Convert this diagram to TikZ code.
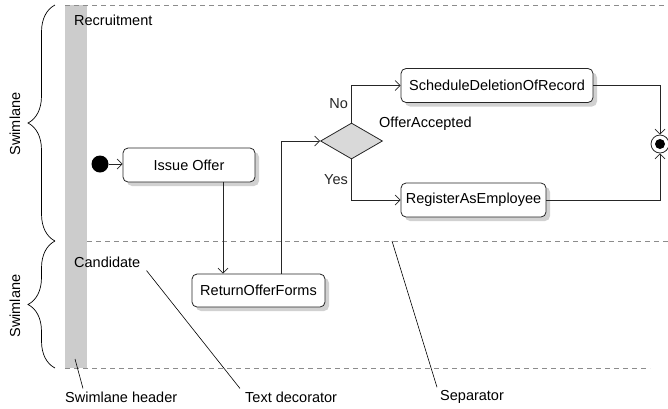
\documentclass[tikz,border=0pt]{standalone}
\usepackage{fontspec}
\setmainfont{Liberation Sans}
\usetikzlibrary{positioning,shapes.geometric,shadows,arrows.meta,decorations.pathreplacing}

\begin{document}
\begin{tikzpicture}[
    x=1pt,
    y=-1pt,
    font=\fontsize{14.5}{17}\selectfont,
    action/.style={
        rectangle,
        draw=black!85,
        fill=white,
        rounded corners=5pt,
        minimum height=34pt,
        inner xsep=3pt,
        line width=0.8pt,
        drop shadow={shadow xshift=4pt, shadow yshift=-4pt, fill=black!18, opacity=1}
    },
    decision/.style={
        diamond,
        draw=black!85,
        fill=black!15,
        minimum width=62pt,
        minimum height=36pt,
        aspect=1.72,
        inner sep=0pt,
        line width=0.8pt
    },
    flow/.style={
        draw,
        -{Straight Barb[length=5pt,width=10pt]},
        line width=0.7pt,
        color=black!85
    },
    lane/.style={
        draw,
        dashed,
        dash pattern=on 5pt off 4pt,
        color=black!45,
        line width=0.7pt
    },
    brace/.style={
        draw,
        decorate,
        decoration={brace, amplitude=27pt, aspect=0.5},
        line width=0.7pt
    },
    note/.style={
        draw,
        line width=0.6pt,
        color=black
    },
    lbl/.style={
        inner sep=0pt
    }
]
    \useasboundingbox (0,0) rectangle (668,408);

    % Swimlanes
    \fill[black!20] (65,5) rectangle (87,368);
    \path [lane] (65,5) -- (668,5);
    \path [lane] (87,241) -- (668,241);
    \path [lane] (65,368) -- (650,368);
    \path [brace] (55,241) -- (55,5);
    \path [brace] (55,368) -- (55,241);
    \node [rotate=90] (swimtop) at (15,124) {Swimlane};
    \node [rotate=90] (swimbot) at (15,306) {Swimlane};
    \node [lbl, anchor=west] (recr) at (74,20) {Recruitment};
    \node [lbl, anchor=west] (cand) at (74,262) {Candidate};

    % Components
    \node [circle, fill=black, minimum size=17pt, inner sep=0pt] (init) at (100,164) {};
    \node [action, minimum width=132pt] (issue) at (189,165) {Issue Offer};
    \node [action, minimum width=133pt, minimum height=33pt] (ret) at (258.5,290.5) {ReturnOfferForms};
    \node [decision] (dec) at (351.5,141) {};
    \node [lbl, anchor=west] (acc) at (379,124) {OfferAccepted};
    \node [action, minimum width=192pt] (sched) at (497,85.5) {ScheduleDeletionOfRecord};
    \node [action, minimum width=145pt] (reg) at (473.5,200) {RegisterAsEmployee};
    \node [circle, draw=black!85, fill=white, minimum size=18pt, inner sep=0pt, line width=0.8pt] (final) at (660,144) {};
    \fill (final.center) circle[radius=5pt];

    % Control flow
    \path [flow] (init) -- (issue.west |- init);
    \path [flow] ([xshift=34pt]issue.south) -- ([xshift=34pt]issue.south |- ret.north);
    \path [flow] ([xshift=22.5pt]ret.north) |- (dec.west);
    \path [flow] (dec.north) |- node[pos=0.25, left] {No} (sched.west);
    \path [flow] (dec.south) |- node[pos=0.25, left] {Yes} (reg.west);
    \path [flow] (sched.east) -| (final.north);
    \path [flow] (reg.east) -| (final.south);

    % Annotations
    \node [lbl, anchor=west] (hdr) at (65,397) {Swimlane header};
    \node [lbl, anchor=west] (deco) at (245,397) {Text decorator};
    \node [lbl, anchor=west] (sep) at (440,397) {Separator};
    \coordinate (hdrpt) at (75,359);
    \coordinate (seppt) at (392,241);
    \path [note] (hdrpt) -- ([xshift=18pt,yshift=3pt]hdr.north west);
    \path [note] ([xshift=6pt,yshift=-3pt]cand.south east) -- ([xshift=-5pt,yshift=3pt]deco.north west);
    \path [note] (seppt) -- ([xshift=-3pt,yshift=3pt]sep.north west);

\end{tikzpicture}
\end{document}
